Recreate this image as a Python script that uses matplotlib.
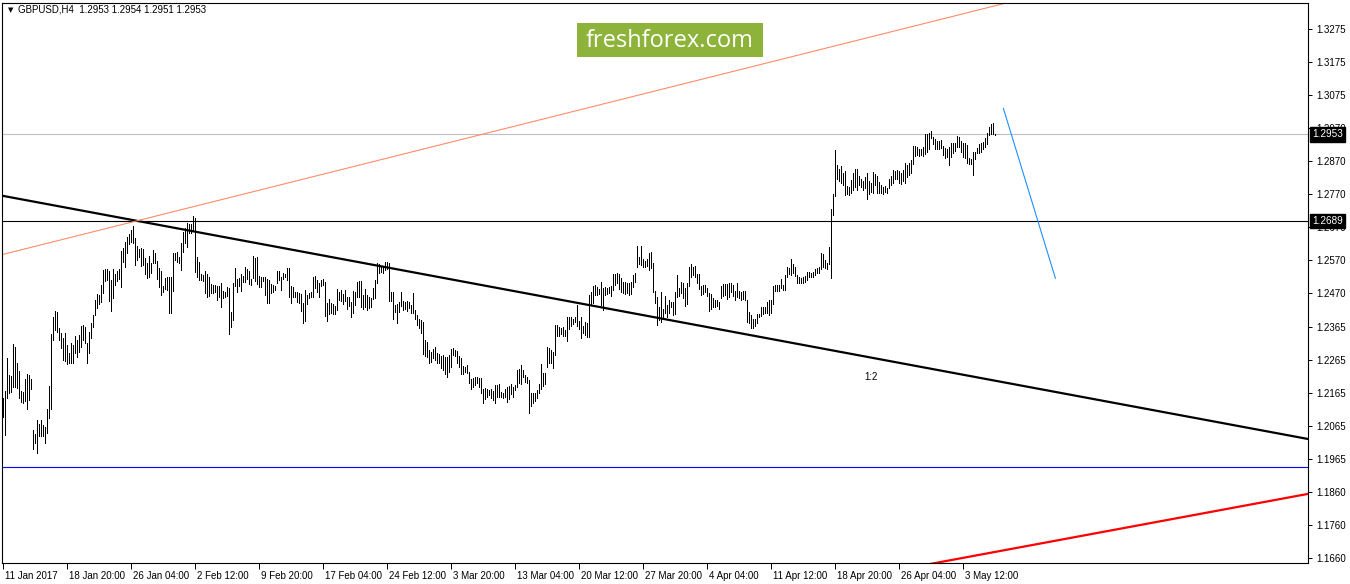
import numpy as np
import matplotlib
matplotlib.use("Agg")
import matplotlib.pyplot as plt
import matplotlib.transforms as mtransforms
from matplotlib.patches import Rectangle

plt.rcParams['font.family'] = ['Liberation Sans', 'DejaVu Sans']

# GBPUSD H4 bars, left to right (high / low)
high_1 = [
    1.2149, 1.2170, 1.2271, 1.2219, 1.2216, 1.2314, 1.2305, 1.2256, 1.2231, 1.2170,
    1.2167, 1.2207, 1.2222, 1.2219, 1.2207, 1.2052, 1.2039, 1.2082, 1.2070, 1.2082,
    1.2067, 1.2061, 1.2116, 1.2186, 1.2344, 1.2396, 1.2414, 1.2411, 1.2363, 1.2347,
    1.2332, 1.2347, 1.2311, 1.2286, 1.2317, 1.2311, 1.2338, 1.2326, 1.2341, 1.2369,
    1.2372, 1.2366, 1.2317, 1.2350, 1.2378, 1.2402, 1.2448, 1.2466, 1.2463, 1.2494,
    1.2540, 1.2543, 1.2543, 1.2537, 1.2509, 1.2543, 1.2527, 1.2537, 1.2543, 1.2597,
    1.2607, 1.2625, 1.2640, 1.2649, 1.2662, 1.2674, 1.2637, 1.2613, 1.2604, 1.2607,
    1.2604, 1.2576, 1.2561, 1.2582, 1.2561, 1.2601, 1.2591, 1.2567, 1.2546, 1.2537,
    1.2491, 1.2515, 1.2518, 1.2518, 1.2518, 1.2591, 1.2591, 1.2594, 1.2579, 1.2622,
    1.2656, 1.2668, 1.2683, 1.2680, 1.2680, 1.2704, 1.2698, 1.2579, 1.2564, 1.2527,
    1.2524, 1.2537, 1.2527, 1.2518, 1.2497, 1.2494, 1.2494, 1.2491, 1.2491, 1.2500,
    1.2475, 1.2472, 1.2488, 1.2485, 1.2411, 1.2500, 1.2546, 1.2512, 1.2515, 1.2527,
    1.2521, 1.2549, 1.2543, 1.2537, 1.2512, 1.2582, 1.2576, 1.2579, 1.2521, 1.2518,
    1.2518, 1.2518, 1.2512, 1.2509, 1.2497, 1.2494, 1.2491, 1.2537, 1.2537, 1.2518,
    1.2530, 1.2527, 1.2546, 1.2546, 1.2491, 1.2488, 1.2472, 1.2472, 1.2469, 1.2466,
    1.2439, 1.2478, 1.2463, 1.2469, 1.2472, 1.2518, 1.2521, 1.2509, 1.2500, 1.2509,
    1.2512, 1.2503, 1.2439, 1.2451, 1.2439, 1.2436, 1.2430, 1.2482, 1.2472,
]
low_1 = [
    1.2091, 1.2036, 1.2149, 1.2164, 1.2167, 1.2183, 1.2183, 1.2180, 1.2149, 1.2137,
    1.2134, 1.2140, 1.2116, 1.2143, 1.2177, 1.1994, 1.2012, 1.1981, 1.2033, 1.2033,
    1.2033, 1.2012, 1.2042, 1.2088, 1.2116, 1.2326, 1.2357, 1.2351, 1.2326, 1.2302,
    1.2265, 1.2262, 1.2253, 1.2256, 1.2256, 1.2256, 1.2286, 1.2274, 1.2289, 1.2305,
    1.2326, 1.2317, 1.2256, 1.2286, 1.2332, 1.2366, 1.2402, 1.2424, 1.2436, 1.2442,
    1.2469, 1.2506, 1.2509, 1.2445, 1.2414, 1.2454, 1.2494, 1.2506, 1.2512, 1.2488,
    1.2564, 1.2549, 1.2591, 1.2619, 1.2625, 1.2622, 1.2555, 1.2570, 1.2579, 1.2552,
    1.2555, 1.2527, 1.2515, 1.2518, 1.2530, 1.2561, 1.2561, 1.2512, 1.2488, 1.2463,
    1.2472, 1.2481, 1.2478, 1.2407, 1.2407, 1.2475, 1.2570, 1.2564, 1.2561, 1.2540,
    1.2594, 1.2622, 1.2610, 1.2652, 1.2652, 1.2662, 1.2533, 1.2518, 1.2509, 1.2509,
    1.2506, 1.2469, 1.2457, 1.2460, 1.2469, 1.2469, 1.2472, 1.2448, 1.2457, 1.2427,
    1.2454, 1.2457, 1.2460, 1.2344, 1.2366, 1.2387, 1.2491, 1.2472, 1.2491, 1.2475,
    1.2503, 1.2503, 1.2512, 1.2497, 1.2494, 1.2515, 1.2506, 1.2497, 1.2488, 1.2488,
    1.2506, 1.2463, 1.2439, 1.2439, 1.2469, 1.2472, 1.2478, 1.2500, 1.2509, 1.2478,
    1.2512, 1.2518, 1.2509, 1.2457, 1.2439, 1.2457, 1.2457, 1.2442, 1.2439, 1.2414,
    1.2378, 1.2384, 1.2436, 1.2454, 1.2457, 1.2457, 1.2485, 1.2472, 1.2457, 1.2491,
    1.2494, 1.2399, 1.2384, 1.2405, 1.2408, 1.2405, 1.2405, 1.2417, 1.2448,
]

high_2 = [
    1.2478, 1.2466, 1.2478, 1.2457, 1.2457, 1.2442, 1.2475, 1.2472, 1.2503, 1.2506,
    1.2506, 1.2463, 1.2482, 1.2463, 1.2457, 1.2454, 1.2485, 1.2509, 1.2561, 1.2558,
    1.2552, 1.2549, 1.2564, 1.2564, 1.2561, 1.2472, 1.2472, 1.2433, 1.2436, 1.2442,
    1.2472, 1.2445, 1.2442, 1.2445, 1.2442, 1.2433, 1.2469, 1.2417, 1.2402, 1.2390,
    1.2387, 1.2381, 1.2326, 1.2320, 1.2296, 1.2290, 1.2299, 1.2305, 1.2286, 1.2283,
    1.2277, 1.2280, 1.2274, 1.2274, 1.2280, 1.2299, 1.2302, 1.2296, 1.2293, 1.2277,
    1.2271, 1.2247, 1.2244, 1.2250, 1.2228, 1.2207, 1.2210, 1.2213, 1.2213, 1.2210,
    1.2210, 1.2177, 1.2180, 1.2177, 1.2174, 1.2177, 1.2170, 1.2189, 1.2189, 1.2192,
    1.2167, 1.2164, 1.2177, 1.2183, 1.2186, 1.2192, 1.2183, 1.2189, 1.2235, 1.2238,
    1.2250, 1.2235, 1.2219, 1.2213, 1.2204, 1.2164, 1.2164, 1.2164, 1.2174, 1.2192,
    1.2253, 1.2225, 1.2225, 1.2305, 1.2302, 1.2296, 1.2290, 1.2372, 1.2372, 1.2366,
    1.2363, 1.2366, 1.2357, 1.2396, 1.2396, 1.2396, 1.2390, 1.2396, 1.2433, 1.2384,
    1.2396, 1.2369, 1.2381, 1.2378, 1.2463, 1.2472, 1.2491, 1.2494, 1.2488, 1.2482,
    1.2503, 1.2485, 1.2488, 1.2485, 1.2488, 1.2491, 1.2527, 1.2527, 1.2530, 1.2527,
    1.2515, 1.2503, 1.2503, 1.2500, 1.2500, 1.2503, 1.2524, 1.2530, 1.2613, 1.2579,
    1.2613, 1.2573, 1.2567, 1.2573, 1.2591, 1.2594, 1.2561, 1.2475, 1.2457, 1.2427,
    1.2472, 1.2420, 1.2460, 1.2433, 1.2448,
]
low_2 = [
    1.2445, 1.2436, 1.2445, 1.2420, 1.2430, 1.2396, 1.2408, 1.2433, 1.2457, 1.2457,
    1.2427, 1.2420, 1.2427, 1.2417, 1.2424, 1.2427, 1.2451, 1.2454, 1.2500, 1.2530,
    1.2533, 1.2530, 1.2540, 1.2543, 1.2445, 1.2445, 1.2390, 1.2411, 1.2378, 1.2411,
    1.2430, 1.2417, 1.2420, 1.2414, 1.2424, 1.2408, 1.2408, 1.2390, 1.2372, 1.2363,
    1.2347, 1.2283, 1.2277, 1.2274, 1.2256, 1.2259, 1.2271, 1.2265, 1.2256, 1.2256,
    1.2241, 1.2235, 1.2222, 1.2213, 1.2228, 1.2244, 1.2280, 1.2277, 1.2256, 1.2244,
    1.2222, 1.2222, 1.2228, 1.2225, 1.2195, 1.2177, 1.2183, 1.2189, 1.2195, 1.2183,
    1.2164, 1.2134, 1.2146, 1.2152, 1.2158, 1.2149, 1.2143, 1.2134, 1.2152, 1.2152,
    1.2152, 1.2149, 1.2152, 1.2137, 1.2146, 1.2161, 1.2152, 1.2174, 1.2183, 1.2195,
    1.2192, 1.2213, 1.2198, 1.2195, 1.2103, 1.2125, 1.2134, 1.2140, 1.2149, 1.2164,
    1.2177, 1.2186, 1.2192, 1.2244, 1.2256, 1.2256, 1.2241, 1.2280, 1.2338, 1.2338,
    1.2344, 1.2338, 1.2338, 1.2323, 1.2360, 1.2369, 1.2375, 1.2381, 1.2369, 1.2360,
    1.2332, 1.2347, 1.2341, 1.2335, 1.2335, 1.2433, 1.2439, 1.2463, 1.2463, 1.2466,
    1.2433, 1.2417, 1.2463, 1.2466, 1.2469, 1.2460, 1.2478, 1.2494, 1.2500, 1.2482,
    1.2472, 1.2469, 1.2466, 1.2469, 1.2463, 1.2466, 1.2488, 1.2503, 1.2549, 1.2558,
    1.2555, 1.2549, 1.2549, 1.2552, 1.2540, 1.2546, 1.2472, 1.2439, 1.2372, 1.2387,
    1.2381, 1.2390, 1.2408, 1.2396, 1.2408,
]

high_3 = [
    1.2442, 1.2442, 1.2472, 1.2524, 1.2485, 1.2503, 1.2500, 1.2485, 1.2500, 1.2549,
    1.2558, 1.2549, 1.2552, 1.2527, 1.2527, 1.2491, 1.2494, 1.2494, 1.2485, 1.2469,
    1.2466, 1.2454, 1.2448, 1.2448, 1.2442, 1.2491, 1.2497, 1.2497, 1.2497, 1.2500,
    1.2500, 1.2494, 1.2475, 1.2500, 1.2475, 1.2472, 1.2475, 1.2475, 1.2448, 1.2411,
    1.2402, 1.2390, 1.2390, 1.2405, 1.2405, 1.2427, 1.2427, 1.2427, 1.2442, 1.2448,
    1.2448, 1.2491, 1.2494, 1.2494, 1.2494, 1.2512, 1.2494, 1.2524, 1.2549, 1.2546,
    1.2573, 1.2558, 1.2549, 1.2524, 1.2518, 1.2515, 1.2518, 1.2521, 1.2533, 1.2533,
    1.2530, 1.2533, 1.2543, 1.2546, 1.2549, 1.2591, 1.2588, 1.2570, 1.2561, 1.2610,
    1.2726, 1.2771, 1.2906, 1.2860, 1.2848, 1.2857, 1.2835, 1.2841, 1.2796, 1.2793,
    1.2814, 1.2835, 1.2848, 1.2848, 1.2826, 1.2817, 1.2811, 1.2823, 1.2835, 1.2811,
    1.2805, 1.2838, 1.2832, 1.2826, 1.2808, 1.2799, 1.2793, 1.2796, 1.2790, 1.2817,
    1.2826, 1.2845, 1.2841, 1.2845, 1.2841, 1.2835, 1.2845, 1.2866, 1.2860, 1.2866,
    1.2875, 1.2918, 1.2918, 1.2915, 1.2909, 1.2909, 1.2915, 1.2954, 1.2954, 1.2957,
    1.2963, 1.2945, 1.2939, 1.2933, 1.2933, 1.2936, 1.2918, 1.2912, 1.2909, 1.2915,
    1.2927, 1.2927, 1.2927, 1.2948, 1.2945, 1.2933, 1.2927, 1.2927, 1.2921, 1.2881,
    1.2878, 1.2899, 1.2899, 1.2912, 1.2924, 1.2927, 1.2930, 1.2942, 1.2957, 1.2976,
    1.2985, 1.2988, 1.2954,
]
low_3 = [
    1.2427, 1.2402, 1.2405, 1.2457, 1.2460, 1.2469, 1.2454, 1.2430, 1.2436, 1.2491,
    1.2518, 1.2524, 1.2518, 1.2500, 1.2482, 1.2463, 1.2466, 1.2472, 1.2460, 1.2414,
    1.2420, 1.2427, 1.2427, 1.2430, 1.2420, 1.2454, 1.2460, 1.2463, 1.2451, 1.2457,
    1.2472, 1.2460, 1.2448, 1.2457, 1.2454, 1.2448, 1.2451, 1.2448, 1.2381, 1.2378,
    1.2363, 1.2363, 1.2369, 1.2378, 1.2396, 1.2399, 1.2405, 1.2408, 1.2408, 1.2402,
    1.2408, 1.2436, 1.2475, 1.2475, 1.2475, 1.2485, 1.2478, 1.2478, 1.2518, 1.2527,
    1.2524, 1.2530, 1.2521, 1.2500, 1.2500, 1.2500, 1.2500, 1.2503, 1.2509, 1.2518,
    1.2518, 1.2518, 1.2524, 1.2530, 1.2530, 1.2543, 1.2549, 1.2546, 1.2543, 1.2558,
    1.2515, 1.2707, 1.2765, 1.2817, 1.2811, 1.2805, 1.2799, 1.2768, 1.2771, 1.2768,
    1.2774, 1.2784, 1.2793, 1.2784, 1.2799, 1.2793, 1.2784, 1.2790, 1.2756, 1.2771,
    1.2777, 1.2774, 1.2799, 1.2774, 1.2774, 1.2774, 1.2771, 1.2777, 1.2774, 1.2790,
    1.2799, 1.2805, 1.2817, 1.2817, 1.2805, 1.2802, 1.2811, 1.2805, 1.2823, 1.2829,
    1.2835, 1.2863, 1.2887, 1.2890, 1.2887, 1.2890, 1.2887, 1.2893, 1.2899, 1.2909,
    1.2942, 1.2924, 1.2909, 1.2909, 1.2909, 1.2912, 1.2890, 1.2881, 1.2884, 1.2860,
    1.2884, 1.2896, 1.2902, 1.2915, 1.2915, 1.2899, 1.2884, 1.2881, 1.2866, 1.2863,
    1.2863, 1.2829, 1.2878, 1.2896, 1.2896, 1.2899, 1.2909, 1.2915, 1.2924, 1.2951,
    1.2954, 1.2954, 1.2951,
]

last_close = 1.2953
level_price = 1.2689
support_price = 1.1938

# trend lines: (bar index, price) anchor points
black_trend_x = [0, 652]
black_trend_y = [1.2765, 1.2024]
orange_trend_x = [0, 520]
orange_trend_y = [1.2587, 1.3382]
red_trend_x = [440, 653]
red_trend_y = [1.1616, 1.1857]
blue_arrow_x = [500, 526]
blue_arrow_y = [1.3032, 1.2514]

price_labels = ['1.1660', '1.1760', '1.1860', '1.1965', '1.2065', '1.2165',
                '1.2265', '1.2365', '1.2470', '1.2570', '1.2670', '1.2770',
                '1.2870', '1.2970', '1.3075', '1.3175', '1.3275']
time_labels = ['11 Jan 2017', '18 Jan 20:00', '26 Jan 04:00', '2 Feb 12:00',
               '9 Feb 20:00', '17 Feb 04:00', '24 Feb 12:00', '3 Mar 20:00',
               '13 Mar 04:00', '20 Mar 12:00', '27 Mar 20:00', '4 Apr 04:00',
               '11 Apr 12:00', '18 Apr 20:00', '26 Apr 04:00', '3 May 12:00']
bars_per_label = 32

highs = np.array(high_1 + high_2 + high_3)
lows = np.array(low_1 + low_2 + low_3)
bar_x = np.arange(len(highs))

W, H = 1350, 584
fig = plt.figure(figsize=(W / 100, H / 100), dpi=100)
ax = fig.add_axes([2 / W, 21 / H, 1306 / W, 560 / H])
ax.set_xlim(-0.67, 652.3)
ax.set_ylim(1.16454, 1.33535)

# price bars (thin 1px HL lines, like the terminal)
ax.vlines(bar_x, lows, highs, colors='black', linewidth=0.55, antialiased=False, zorder=3)

# horizontal levels
ax.axhline(last_close, color='#c0c0c0', linewidth=0.8, zorder=1)
ax.axhline(level_price, color='black', linewidth=0.8, zorder=1)
ax.axhline(support_price, color='#0000ff', linewidth=0.8, zorder=1)

# trend lines
ax.plot(black_trend_x, black_trend_y, color='black', linewidth=1.6, zorder=2)
ax.plot(orange_trend_x, orange_trend_y, color='#ff8c66', linewidth=0.8, zorder=2)
ax.plot(red_trend_x, red_trend_y, color='#ff0000', linewidth=1.6, zorder=2)
ax.plot(blue_arrow_x, blue_arrow_y, color='#1e90ff', linewidth=0.8, zorder=2)

ax.text(434, 1.2213, '1:2', fontsize=7, ha='center', va='center')

# axes styling
for sp in ax.spines.values():
    sp.set_linewidth(0.8)
    sp.set_color('black')

price_ticks = np.linspace(float(price_labels[0]), float(price_labels[-1]), len(price_labels))
ax.yaxis.tick_right()
ax.set_yticks(price_ticks)
ax.set_yticklabels(price_labels)
ax.tick_params(axis='y', direction='out', length=3, width=0.7, labelsize=7, pad=3)

ax.set_xticks(np.arange(len(time_labels)) * bars_per_label)
ax.set_xticklabels(time_labels)
ax.tick_params(axis='x', direction='out', length=4, width=0.7, labelsize=7, pad=1.5)
shift = mtransforms.ScaledTranslation(2 / 100, 0, fig.dpi_scale_trans)
for lbl in ax.get_xticklabels():
    lbl.set_horizontalalignment('left')
    lbl.set_transform(lbl.get_transform() + shift)

# price tags on the right scale
tag_tr = mtransforms.blended_transform_factory(ax.transAxes, ax.transData)
for val in (last_close, level_price):
    ax.text(1.0 + 4 / 1306, val, f'{val:.4f}', transform=tag_tr, fontsize=7.2,
            color='white', ha='left', va='center', clip_on=False, zorder=10,
            bbox=dict(facecolor='black', edgecolor='black', pad=1.6))

# header
fig.text(8 / W, 1 - 10 / H, '▼', fontsize=5, va='center', ha='left', family='DejaVu Sans')
fig.text(18 / W, 1 - 10 / H, 'GBPUSD,H4  1.2953 1.2954 1.2951 1.2953',
         fontsize=7, va='center', ha='left')

# watermark
fig.patches.append(Rectangle((577 / W, 1 - 57 / H), 186 / W, 34 / H,
                             transform=fig.transFigure, facecolor='#8db33b',
                             edgecolor='none', zorder=5))
fig.text(670 / W, 1 - 41 / H, 'freshforex.com', fontsize=17, color='white',
         ha='center', va='center', family='Open Sans', zorder=6)

fig.savefig('out.png', dpi=100)
